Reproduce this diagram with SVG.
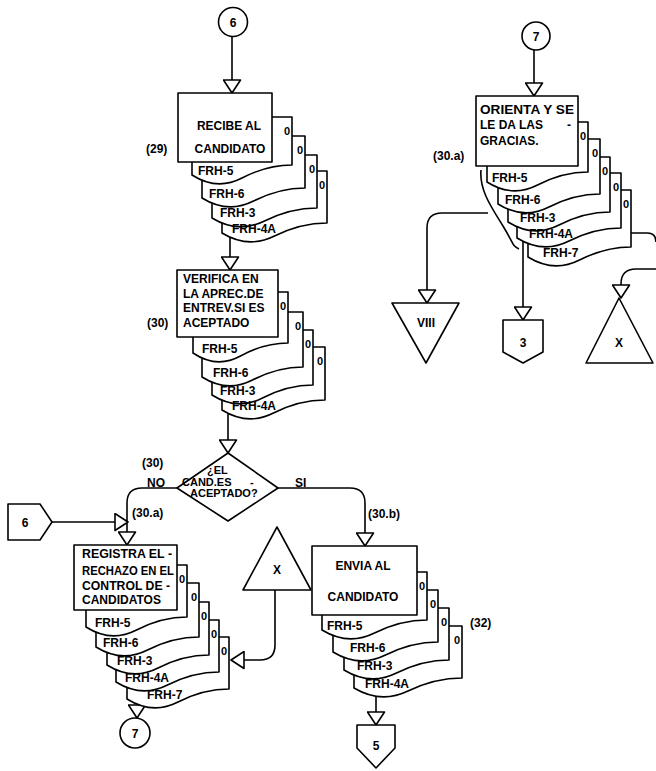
<svg xmlns="http://www.w3.org/2000/svg" width="656" height="771" viewBox="0 0 656 771">
<style>
.s{fill:#fff;stroke:#000;stroke-width:1.6;stroke-linejoin:round}
.l{fill:none;stroke:#000;stroke-width:1.6}
text{font-family:"Liberation Sans",Arial,sans-serif;font-weight:bold;font-size:12px;fill:#000}
.m{text-anchor:middle}
.o{font-size:11px;text-anchor:middle}
.d{font-size:11px}
</style>
<defs>
<marker id="ah" markerUnits="userSpaceOnUse" markerWidth="16" markerHeight="19" refX="14" refY="9.5" orient="auto">
<path d="M1,1 L14,9.5 L1,18 Z" fill="#fff" stroke="#000" stroke-width="1.6" stroke-linejoin="round"/>
</marker>
</defs>
<rect width="656" height="771" fill="#fff"/>

<g id="connectors">
<path class="l" d="M232,37 V93" marker-end="url(#ah)"/>
<path class="l" d="M230,236 V270" marker-end="url(#ah)"/>
<path class="l" d="M228,413 V453" marker-end="url(#ah)"/>
<path class="l" d="M177,488 H142 Q127,488 127,503 V545" marker-end="url(#ah)"/>
<path class="l" d="M278,488 H350 Q365,488 365,503 V546" marker-end="url(#ah)"/>
<path class="l" d="M52,522 H128" marker-end="url(#ah)"/>
<path class="l" d="M275,590 V645 Q275,660 260,660 H231" marker-end="url(#ah)"/>
<path class="l" d="M137,703 V718" marker-end="url(#ah)"/>
<path class="l" d="M376,697 V725" marker-end="url(#ah)"/>
<path class="l" d="M534,50 V96" marker-end="url(#ah)"/>
<path class="l" d="M488,213 H442 Q427,213 427,228 V303" marker-end="url(#ah)"/>
<path class="l" d="M523,241 V320" marker-end="url(#ah)"/>
<path class="l" d="M631,233 H647 Q656,233 656,242"/>
<path class="l" d="M656,269 H636 Q621,269 621,284 V298" marker-end="url(#ah)"/>
<path class="l" d="M481,170 C479,190 492,208 503,226 S512,246 519,249"/>
</g>

<g id="n-c6">
<circle class="s" cx="233" cy="22" r="14.5"/>
<text class="m" x="233" y="26.5">6</text>
</g>

<g id="n-recibe">
<path class="s" d="M222,171 V233 Q248.25,249 274.5,236 T327,223 V171 Z"/>
<path class="s" d="M212,155 V218 Q238.25,234 264.5,221 T317,208 V155 Z"/>
<path class="s" d="M202,136 V198 Q227.75,214 253.5,201 T305,188 V136 Z"/>
<path class="s" d="M192,117 V175 Q217,191 242,178 T292,165 V117 Z"/>
<text class="o" x="322" y="189">0</text>
<text class="o" x="312" y="173">0</text>
<text class="o" x="300" y="154">0</text>
<text class="o" x="287" y="135">0</text>
<text x="198" y="174.5">FRH-5</text>
<text x="209" y="197.5">FRH-6</text>
<text x="220" y="217">FRH-3</text>
<text x="232" y="232.5">FRH-4A</text>
<rect class="s" x="178" y="93" width="94" height="69"/>
<text class="m" x="229" y="129.5">RECIBE AL</text>
<text class="m" x="230" y="152.5">CANDIDATO</text>
<text x="146" y="152.5">(29)</text>
</g>

<g id="n-verifica">
<path class="s" d="M222,347 V410 Q247.75,426 273.5,413 T325,400 V347 Z"/>
<path class="s" d="M212,330 V395 Q237.25,411 262.5,398 T313,385 V330 Z"/>
<path class="s" d="M202,312 V377 Q227.25,393 252.5,380 T303,367 V312 Z"/>
<path class="s" d="M193,292 V353 Q216.75,369 240.5,356 T288,343 V292 Z"/>
<text class="o" x="320" y="365">0</text>
<text class="o" x="308" y="348">0</text>
<text class="o" x="298" y="330">0</text>
<text class="o" x="283" y="310">0</text>
<text x="202" y="352.5">FRH-5</text>
<text x="213" y="376.5">FRH-6</text>
<text x="220" y="394.5">FRH-3</text>
<text x="232" y="409.5">FRH-4A</text>
<rect class="s" x="177" y="270" width="101" height="67"/>
<text x="183" y="282.5">VERIFICA EN</text>
<text x="183" y="297.5">LA APREC.DE</text>
<text x="183" y="311.5">ENTREV.SI ES</text>
<text x="183" y="327">ACEPTADO</text>
<text x="147" y="326.5">(30)</text>
</g>

<g id="n-decision">
<polygon class="s" points="228,453 278,488 228,521 177,488"/>
<text class="d" x="207" y="474">¿EL</text>
<text class="d" x="182" y="486">CAND.ES</text>
<text class="d" x="250" y="486">-</text>
<text class="d" x="190" y="497">ACEPTADO?</text>
<text x="142" y="467">(30)</text>
<text x="147" y="486.5">NO</text>
<text x="295" y="486.5">SI</text>
<text x="132" y="516.5">(30.a)</text>
<text x="368" y="517.5">(30.b)</text>
</g>

<g id="n-p6">
<path class="s" d="M8,504 H40 L52,522 L40,540 H8 Z"/>
<text class="m" x="25" y="526.5">6</text>
</g>

<g id="n-x1">
<polygon class="s" points="277,527 243,590 311,590"/>
<text class="m" x="277" y="573.5">X</text>
</g>

<g id="n-registra">
<path class="s" d="M127,637 V699 Q152.5,715 178,702 T229,689 V637 Z"/>
<path class="s" d="M116,620 V682 Q141.75,698 167.5,685 T219,672 V620 Z"/>
<path class="s" d="M107,602 V665 Q132.5,681 158,668 T209,655 V602 Z"/>
<path class="s" d="M96,583 V647 Q121.75,663 147.5,650 T199,637 V583 Z"/>
<path class="s" d="M86,565 V627 Q111.25,643 136.5,630 T187,617 V565 Z"/>
<text class="o" x="224" y="655">0</text>
<text class="o" x="214" y="638">0</text>
<text class="o" x="204" y="620">0</text>
<text class="o" x="194" y="601">0</text>
<text class="o" x="182" y="583">0</text>
<text x="95" y="626.5">FRH-5</text>
<text x="103" y="646.5">FRH-6</text>
<text x="117" y="664.5">FRH-3</text>
<text x="125" y="681.5">FRH-4A</text>
<text x="147" y="698.5">FRH-7</text>
<rect class="s" x="74" y="545" width="103" height="65"/>
<text x="82" y="557.5" textLength="90" lengthAdjust="spacingAndGlyphs">REGISTRA EL -</text>
<text x="82" y="574.5" textLength="92" lengthAdjust="spacingAndGlyphs">RECHAZO EN EL</text>
<text x="82" y="589.5" textLength="88" lengthAdjust="spacingAndGlyphs">CONTROL DE -</text>
<text x="82" y="603.5">CANDIDATOS</text>
</g>

<g id="n-c7a">
<circle class="s" cx="135" cy="733" r="15"/>
<text class="m" x="135" y="737.5">7</text>
</g>

<g id="n-envia">
<path class="s" d="M354,626 V688 Q381,704 408,691 T462,678 V626 Z"/>
<path class="s" d="M344,608 V670 Q370.25,686 396.5,673 T449,660 V608 Z"/>
<path class="s" d="M333,590 V652 Q359.25,668 385.5,655 T438,642 V590 Z"/>
<path class="s" d="M322,572 V630 Q348.25,646 374.5,633 T427,620 V572 Z"/>
<text class="o" x="457" y="644">0</text>
<text class="o" x="444" y="626">0</text>
<text class="o" x="433" y="608">0</text>
<text class="o" x="422" y="590">0</text>
<text x="327" y="629.5">FRH-5</text>
<text x="350" y="651.5">FRH-6</text>
<text x="357" y="669.5">FRH-3</text>
<text x="365" y="687.5">FRH-4A</text>
<rect class="s" x="312" y="546" width="105" height="69"/>
<text class="m" x="363" y="569.5">ENVIA AL</text>
<text class="m" x="363" y="600.5">CANDIDATO</text>
<text x="470" y="626.5">(32)</text>
</g>

<g id="n-p5">
<path class="s" d="M357,725 H395 V748 L376,768 L357,748 Z"/>
<text class="m" x="376" y="749.5">5</text>
</g>

<g id="n-c7b">
<circle class="s" cx="536" cy="36" r="14"/>
<text class="m" x="536" y="40.5">7</text>
</g>

<g id="n-orienta">
<path class="s" d="M528,190 V257 Q553.75,273 579.5,260 T631,247 V190 Z"/>
<path class="s" d="M517,173 V238 Q543,254 569,241 T621,228 V173 Z"/>
<path class="s" d="M508,157 V222 Q533.5,238 559,225 T610,212 V157 Z"/>
<path class="s" d="M498,139 V204 Q523.5,220 549,207 T600,194 V139 Z"/>
<path class="s" d="M487,122 V182 Q512.25,198 537.5,185 T588,172 V122 Z"/>
<text class="o" x="626" y="208">0</text>
<text class="o" x="616" y="191">0</text>
<text class="o" x="605" y="175">0</text>
<text class="o" x="595" y="157">0</text>
<text class="o" x="583" y="140">0</text>
<text x="492" y="181.5">FRH-5</text>
<text x="505" y="203.5">FRH-6</text>
<text x="520" y="221.5">FRH-3</text>
<text x="529" y="237.5">FRH-4A</text>
<text x="543" y="256.5">FRH-7</text>
<rect class="s" x="476" y="96" width="102" height="70"/>
<text x="480" y="113.5" textLength="94" lengthAdjust="spacingAndGlyphs">ORIENTA Y SE</text>
<text x="480" y="128.5">LE DA LAS</text>
<text x="567" y="128.5">-</text>
<text x="480" y="144.5">GRACIAS.</text>
<text x="433" y="159.5">(30.a)</text>
</g>

<g id="n-viii">
<polygon class="s" points="392,303 459,303 426,363"/>
<text class="m" x="426" y="327">VIII</text>
</g>

<g id="n-p3">
<path class="s" d="M503,320 H543 V352 L523,363 L503,352 Z"/>
<text class="m" x="523" y="347">3</text>
</g>

<g id="n-x2">
<polygon class="s" points="619,298 586,363 653,363"/>
<text class="m" x="619" y="346.5">X</text>
</g>
</svg>
